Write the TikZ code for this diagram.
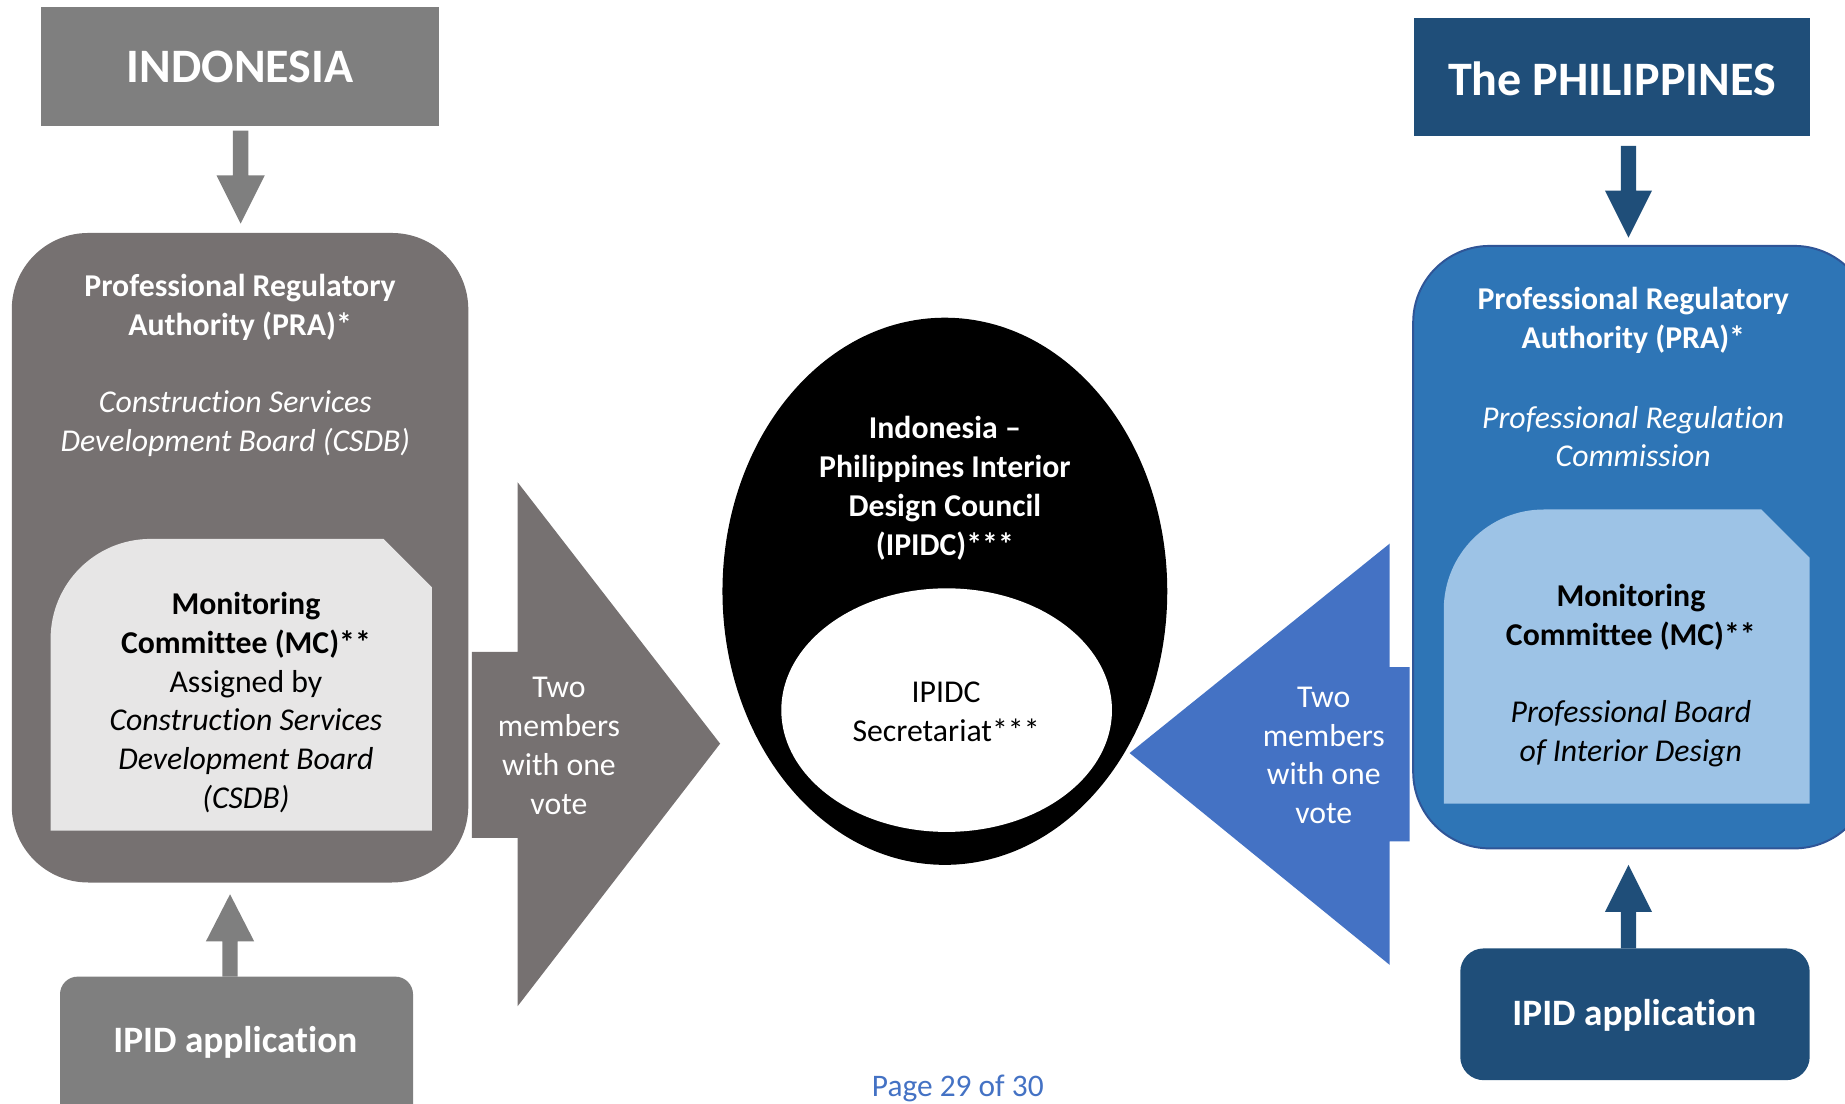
\documentclass[tikz,border=0pt]{standalone}
\usepackage{fontspec}
\setmainfont{Carlito}[RawFeature=-liga]
\usetikzlibrary{calc}
\definecolor{tgray}{HTML}{7F7F7F}
\definecolor{dgray}{HTML}{767171}
\definecolor{lgray}{HTML}{E7E6E6}
\definecolor{navy}{HTML}{1F4E79}
\definecolor{mblue}{HTML}{2E75B6}
\definecolor{lblue}{HTML}{9DC3E6}
\definecolor{ablue}{HTML}{4472C4}
\definecolor{bborder}{HTML}{2F5597}
\begin{document}
\begin{tikzpicture}[x=0.6pt,y=-0.6pt,
  body/.style={align=center,inner sep=0pt,font=\fontsize{16.2}{19.8}\selectfont},
  wtxt/.style={body,text=white},
  btxt/.style={body,text=black},
  title/.style={inner sep=0pt,text=white,font=\fontsize{24.5}{29}\selectfont\bfseries},
  apptxt/.style={inner sep=0pt,text=white,font=\fontsize{19}{23}\selectfont\bfseries}]
\useasboundingbox (0,0) rectangle (1568,938);
\begin{scope}
\clip (0,0) rectangle (1568,938);
% ---------- Indonesia side ----------
\fill[tgray] (35,6) rectangle (373,107);
\node[title] (indo) at (204,57) {INDONESIA};
\fill[tgray] (198,111) -- (211,111) -- (211,149) -- (225,149) -- (204.5,190) -- (184,149) -- (198,149) -- cycle;
\fill[dgray,rounded corners=39pt] (10,198) rectangle (398,750);
\node[wtxt] (prai) at (204,261) {\bfseries Professional Regulatory\\\bfseries Authority (PRA)*};
\node[wtxt] (csdb) at (200,360) {\itshape Construction Services\\\itshape Development Board (CSDB)};
\fill[lgray] (43,706) -- (43,543) .. controls (43,496) and (81,458) .. (128,458) -- (326,458) -- (367,499) -- (367,706) -- cycle;
\node[btxt] (mci) at (209,597) {\bfseries Monitoring\\\bfseries Committee (MC)**\\Assigned by\\\itshape Construction Services\\\itshape Development Board\\\itshape (CSDB)};
\fill[tgray,rounded corners=9pt] (51,830) rectangle (351,980);
\node[apptxt] (appi) at (200,886) {IPID application};
\fill[tgray] (189,830) -- (202,830) -- (202,800) -- (216,800) -- (195.5,760) -- (175,800) -- (189,800) -- cycle;
% left block arrow
\fill[dgray] (401,554) -- (440,554) -- (440,410) -- (612,632) -- (440,855) -- (440,712) -- (401,712) -- cycle;
\node[wtxt] (votei) at (475,634) {Two\\members\\with one\\vote};
% ---------- Council ----------
\fill[black] (803,502.5) ellipse [x radius=189, y radius=232.5];
\node[wtxt] (council) at (803,415) {\bfseries Indonesia --\\\bfseries Philippines Interior\\\bfseries Design Council\\\bfseries (IPIDC)***};
\fill[white] (804.5,603.5) ellipse [x radius=140.5, y radius=103.5];
\node[btxt] (secr) at (804,605) {IPIDC\\Secretariat***};
% ---------- Philippines side ----------
\fill[navy] (1202,15) rectangle (1538,116);
\node[title] (phil) at (1370,67) {The PHILIPPINES};
\fill[navy] (1377.5,124) -- (1390.5,124) -- (1390.5,162) -- (1404,162) -- (1384,202) -- (1364,162) -- (1377.5,162) -- cycle;
\filldraw[fill=mblue,draw=bborder,line width=1pt,rounded corners=39pt] (1201,209) rectangle (1590,721);
\node[wtxt] (prap) at (1388,272) {\bfseries Professional Regulatory\\\bfseries Authority (PRA)*};
\node[wtxt] (prc) at (1388,371) {\itshape Professional Regulation\\\itshape Commission};
\fill[lblue] (1227,683) -- (1227,518) .. controls (1227,471) and (1265,433) .. (1312,433) -- (1497,433) -- (1538,474) -- (1538,683) -- cycle;
\node[btxt] (mcp) at (1386,574) {\bfseries Monitoring\\\bfseries Committee (MC)**\\[19.8pt]\itshape Professional Board\\\itshape of Interior Design};
\fill[navy,rounded corners=12pt] (1241,806) rectangle (1538,918);
\node[apptxt] (appp) at (1389,863) {IPID application};
\fill[navy] (1377.5,806) -- (1390.5,806) -- (1390.5,775) -- (1404,775) -- (1384,735) -- (1364,775) -- (1377.5,775) -- cycle;
% right block arrow
\fill[ablue] (1198,567) -- (1181,567) -- (1181,462) -- (960,640) -- (1181,820) -- (1181,715) -- (1198,715) -- cycle;
\node[wtxt] (votep) at (1125,642) {Two\\members\\with one\\vote};
% page footer
\node[inner sep=0pt,text=ablue,font=\fontsize{16}{19}\selectfont] (page) at (814,925) {Page 29 of 30};
\end{scope}
\end{tikzpicture}
\end{document}
